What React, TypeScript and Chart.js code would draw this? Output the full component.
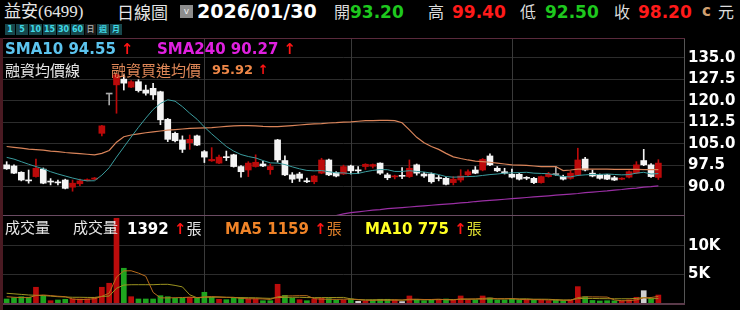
import React, { useEffect, useRef } from "react";
import { Chart, registerables } from "chart.js";
Chart.register(...registerables);

// ---- data ----
const opens = [97.6, 97.2, 95.0, 92.1, 93.5, 96.1, 91.8, 91.4, 92.3, 89.8,
  91.0, 92.1, 92.6, 108.6, 122.3, 125.5, 127.5, 124.7, 126.6, 123.7,
  124.3, 123.1, 113.5, 108.6, 106.3, 105.3, 107.7, 102.2, 99.0, 98.2,
  100.4, 101.1, 97.0, 95.8, 97.0, 97.9, 95.9, 106.3, 99.1, 94.1,
  94.4, 91.9, 91.7, 94.7, 99.3, 94.9, 94.4, 97.2, 95.6, 97.0,
  97.1, 98.2, 94.1, 93.4, 93.7, 93.5, 97.6, 94.4, 94.4, 93.0,
  92.9, 91.4, 92.3, 94.1, 95.8, 95.8, 100.7, 96.4, 95.2, 94.3,
  94.3, 93.0, 92.9, 91.4, 93.5, 94.2, 93.5, 92.9, 94.1, 99.6,
  94.7, 94.1, 94.1, 93.1, 92.6, 93.3, 94.7, 99.1, 97.6, 93.2];
const highs = [98.7, 97.6, 95.2, 95.8, 99.6, 96.5, 92.8, 92.3, 92.6, 92.3,
  92.6, 92.7, 93.2, 111.4, 122.3, 129.4, 129.0, 127.0, 127.3, 125.4,
  126.0, 123.3, 113.8, 109.0, 107.7, 108.0, 108.0, 102.6, 103.6, 101.0,
  102.4, 101.3, 97.3, 98.7, 101.1, 98.8, 97.9, 106.5, 100.7, 94.9,
  95.0, 93.0, 93.9, 99.9, 99.6, 95.2, 97.5, 97.5, 97.0, 98.0,
  97.9, 98.3, 94.7, 94.0, 96.6, 99.3, 97.9, 95.0, 94.8, 93.9,
  93.2, 93.5, 95.9, 95.9, 97.0, 99.8, 101.4, 97.0, 96.4, 96.1,
  94.6, 93.5, 93.2, 93.7, 95.0, 97.0, 94.0, 95.5, 103.4, 100.2,
  95.8, 94.4, 94.3, 93.6, 93.1, 95.5, 98.7, 103.0, 98.0, 99.4];
const lows = [96.0, 94.5, 92.0, 91.2, 93.3, 91.0, 90.6, 90.6, 89.2, 88.4,
  90.3, 92.0, 92.4, 107.7, 118.5, 115.6, 123.7, 124.5, 123.0, 121.9,
  120.4, 111.6, 105.7, 105.6, 101.9, 103.0, 104.3, 98.4, 98.8, 98.0,
  99.1, 96.8, 93.3, 93.5, 96.8, 97.0, 94.3, 98.5, 93.8, 91.4,
  91.8, 91.4, 91.0, 94.5, 93.8, 93.4, 94.2, 94.4, 94.5, 96.0,
  96.5, 94.3, 92.4, 92.7, 92.8, 93.2, 94.0, 93.2, 91.2, 92.0,
  90.6, 90.6, 91.6, 93.6, 94.5, 95.5, 97.3, 95.2, 94.4, 93.0,
  92.3, 92.4, 91.0, 91.2, 93.3, 93.8, 92.3, 92.6, 93.8, 95.5,
  93.4, 92.6, 92.4, 92.1, 92.4, 93.0, 94.5, 97.3, 93.2, 92.5];
const closes = [96.2, 94.7, 92.3, 92.0, 96.4, 91.2, 91.6, 91.3, 89.4, 91.2,
  92.0, 92.4, 93.0, 111.2, 122.3, 129.0, 126.1, 126.6, 123.5, 122.6,
  122.0, 113.3, 106.5, 106.0, 103.0, 106.5, 104.5, 100.3, 99.5, 100.3,
  100.1, 97.0, 95.2, 98.2, 98.5, 97.2, 97.0, 99.3, 94.1, 92.6,
  92.9, 91.7, 93.7, 99.3, 94.1, 93.7, 97.0, 95.5, 95.5, 97.8,
  97.7, 94.7, 93.1, 93.6, 93.6, 96.4, 94.7, 93.7, 91.7, 92.8,
  90.8, 92.6, 93.7, 95.2, 94.7, 99.5, 97.6, 95.5, 94.7, 93.3,
  92.6, 92.9, 91.4, 93.5, 94.4, 94.2, 92.6, 94.7, 99.3, 95.8,
  93.7, 92.9, 92.6, 92.3, 92.9, 95.2, 97.6, 97.6, 93.5, 98.2];
const sma10 = [100.2, 99.6, 98.7, 97.8, 97.0, 96.2, 95.2, 94.4, 93.7, 93.0,
  92.4, 92.0, 92.05, 94.0, 96.6, 100.3, 103.8, 107.3, 110.7, 113.9,
  116.9, 119.0, 120.3, 119.8, 117.9, 115.6, 113.5, 110.8, 108.4, 106.2,
  104.0, 102.4, 101.2, 100.5, 100.0, 99.1, 98.3, 98.2, 97.7, 96.9,
  96.2, 95.65, 95.5, 95.6, 95.2, 94.8, 94.8, 94.5, 94.6, 95.2,
  95.65, 95.95, 95.9, 95.3, 95.3, 95.55, 95.3, 95.1, 94.7, 94.2,
  93.5, 93.3, 93.4, 93.5, 93.6, 93.9, 94.2, 94.4, 94.7, 94.8,
  94.9, 95.0, 94.7, 94.6, 94.5, 94.0, 93.5, 93.4, 93.9, 94.1,
  94.25, 94.25, 94.4, 94.25, 94.1, 94.2, 94.7, 95.0, 94.4, 94.55];
const marginAvg = [104.0, 103.7, 103.4, 103.1, 102.9, 102.7, 102.4, 102.2, 101.9, 101.7,
  101.5, 101.3, 101.1, 101.6, 102.6, 105.5, 107.4, 108.0, 108.4, 108.8,
  109.1, 109.4, 109.7, 109.9, 110.1, 110.3, 110.4, 110.5, 110.6, 110.8,
  111.0, 111.2, 111.3, 111.3, 111.2, 111.0, 110.9, 110.9, 111.1, 111.3,
  111.5, 111.7, 111.9, 112.0, 112.2, 112.3, 112.5, 112.6, 112.8, 113.0,
  113.0, 113.1, 113.1, 113.0, 112.3, 109.8, 107.2, 105.3, 104.0, 103.0,
  101.6, 100.4, 99.8, 99.3, 98.9, 98.7, 98.5, 98.2, 97.9, 97.6,
  97.5, 97.4, 97.2, 97.0, 97.0, 97.0, 95.6, 95.8, 96.1, 96.1,
  96.1, 96.1, 96.1, 96.0, 96.0, 96.0, 96.0, 95.9, 95.9, 95.92];
const sma240 = [null, null, null, null, null, null, null, null, null, null,
  null, null, null, null, null, null, null, null, null, null,
  null, null, null, null, null, null, null, null, null, null,
  null, null, null, null, null, null, null, null, null, null,
  null, null, null, null, 79.6, 79.9, 80.5, 80.9, 81.2, 81.5,
  81.8, 82.0, 82.3, 82.5, 82.7, 82.9, 83.1, 83.3, 83.5, 83.7,
  83.9, 84.1, 84.3, 84.5, 84.8, 85.0, 85.2, 85.4, 85.6, 85.8,
  86.0, 86.2, 86.4, 86.6, 86.8, 87.0, 87.2, 87.4, 87.6, 87.9,
  88.1, 88.3, 88.5, 88.8, 89.0, 89.3, 89.5, 89.8, 90.0, 90.27];
const volumes = [700, 930, 1100, 1000, 2750, 1225, 400, 525, 650, 700,
  700, 700, 1000, 2750, 3450, 14800, 6070, 1100, 700, 700,
  700, 1280, 1100, 820, 875, 1000, 820, 1870, 1000, 650,
  580, 875, 875, 700, 700, 400, 400, 3270, 1340, 820,
  580, 400, 700, 820, 760, 525, 525, 700, 290, 290,
  525, 650, 650, 525, 250, 1225, 650, 400, 525, 525,
  700, 525, 1225, 525, 525, 1225, 875, 525, 525, 700,
  525, 650, 525, 525, 400, 525, 400, 525, 2860, 1100,
  450, 350, 400, 380, 380, 550, 1000, 2150, 700, 1392];
const volMa5 = [1100, 1000, 950, 950, 1296, 1401, 1295, 1180, 1110, 700,
  595, 655, 750, 1170, 1720, 4540, 5614, 5634, 5224, 4674,
  1854, 896, 896, 920, 955, 1015, 923, 1077, 1113, 1068,
  984, 995, 796, 736, 746, 710, 615, 1094, 1222, 1246,
  1282, 1282, 768, 664, 652, 641, 666, 666, 560, 466,
  466, 491, 481, 528, 520, 660, 660, 610, 610, 665,
  560, 535, 700, 700, 700, 805, 875, 735, 735, 770,
  630, 585, 585, 585, 525, 525, 475, 475, 942, 1082,
  1067, 1057, 1032, 536, 392, 412, 542, 892, 956, 1159];
const volMa10 = [1700, 1600, 1500, 1400, 1350, 1300, 1200, 1100, 1050, 1000,
  998, 975, 965, 1140, 1210, 2568, 3135, 3192, 3197, 3197,
  3197, 3255, 3265, 3072, 2815, 1435, 910, 987, 1017, 1012,
  1000, 960, 937, 925, 908, 848, 806, 946, 980, 997,
  997, 950, 932, 944, 950, 962, 975, 718, 613, 560,
  554, 579, 574, 545, 494, 564, 576, 546, 570, 593,
  611, 598, 656, 656, 683, 683, 706, 718, 718, 736,
  718, 731, 661, 661, 648, 578, 531, 531, 764, 804,
  797, 767, 754, 740, 738, 740, 800, 963, 747, 775];
const priceTicks = [90, 97.5, 105, 112.5, 120, 127.5, 135];
const volTicks = [5000, 10000];
const volTickLabels = ["5K", "10K"];
const monthStarts = [27, 47, 69];
const SLOTS = 93;

const RED = "#bc0a0a";
const WHITE = "#f4f4f4";
const GRAY = "#a8a8a8";
const VRED = "#bb0c0c";
const VGREEN = "#1fa51f";

const AXIS_FONT = { family: "DejaVu Sans", size: 15, weight: "bold" as const };

const monthLines = {
  id: "monthLines",
  beforeDatasetsDraw(chart: any) {
    const { ctx, chartArea, scales } = chart;
    const x = scales.x;
    ctx.save();
    ctx.strokeStyle = "#3a3a3a";
    ctx.lineWidth = 1;
    monthStarts.forEach((i) => {
      const px = Math.round(x.getPixelForValue(i)) + 0.5;
      ctx.beginPath();
      ctx.moveTo(px, chartArea.top);
      ctx.lineTo(px, chartArea.bottom);
      ctx.stroke();
    });
    ctx.restore();
  },
};

const fitAxis = (s: any) => {
  s.width = 56;
  s.paddingTop = 0;
  s.paddingBottom = 0;
};

function PriceChart() {
  const ref = useRef<HTMLCanvasElement>(null);
  useEffect(() => {
    const labels = Array.from({ length: SLOTS }, (_, i) => String(i));
    const candleColor = closes.map((c, i) => (c > opens[i] ? RED : c < opens[i] ? WHITE : GRAY));
    const chart = new Chart(ref.current!, {
      type: "bar",
      data: {
        labels,
        datasets: [
          { type: "line", data: sma10, borderColor: "#3a9c9e", borderWidth: 1, pointRadius: 0, order: 0 } as any,
          { type: "line", data: marginAvg, borderColor: "#d9845a", borderWidth: 1.2, pointRadius: 0, order: 0 } as any,
          { type: "line", data: sma240, borderColor: "#9a2fa4", borderWidth: 1.2, pointRadius: 0, order: 0 } as any,
          { type: "bar", data: lows.map((l, i) => [l, highs[i]]), backgroundColor: candleColor, barThickness: 1, grouped: false, order: 2 } as any,
          { type: "bar", data: opens.map((o, i) => [o, closes[i]]), backgroundColor: candleColor, barThickness: 6, minBarLength: 1, grouped: false, order: 1 } as any,
        ],
      },
      options: {
        animation: false,
        responsive: false,
        maintainAspectRatio: false,
        layout: { padding: { left: 3, top: 0, right: 0, bottom: 0 } },
        plugins: { legend: { display: false }, tooltip: { enabled: false } },
        scales: {
          x: { display: false },
          y: {
            position: "right",
            min: 80.1,
            max: 141.5,
            afterBuildTicks: (s: any) => { s.ticks = priceTicks.map((v) => ({ value: v })); },
            afterFit: fitAxis,
            ticks: { color: "#ffffff", font: AXIS_FONT, padding: 4, callback: (v: any) => Number(v).toFixed(1) },
            grid: { color: "#2c2c2c", drawTicks: false },
            border: { display: true, color: "#555555" },
          },
        },
      },
      plugins: [monthLines],
    });
    return () => chart.destroy();
  }, []);
  return <canvas ref={ref} width={740} height={176} style={{ position: "absolute", left: 0, top: 39, width: 740, height: 176 }} />;
}

function VolumeChart() {
  const ref = useRef<HTMLCanvasElement>(null);
  useEffect(() => {
    const labels = Array.from({ length: SLOTS }, (_, i) => String(i));
    const volColor = closes.map((c, i) => {
      const prev = i === 0 ? 97.0 : closes[i - 1];
      return c > prev ? VRED : c < prev ? VGREEN : "#cfcfcf";
    });
    const chart = new Chart(ref.current!, {
      type: "bar",
      data: {
        labels,
        datasets: [
          { type: "line", data: volMa5, borderColor: "#b86c1c", borderWidth: 1, pointRadius: 0, order: 0 } as any,
          { type: "line", data: volMa10, borderColor: "#9c9420", borderWidth: 1, pointRadius: 0, order: 0 } as any,
          { type: "bar", data: volumes, backgroundColor: volColor, barThickness: 5, order: 1 } as any,
        ],
      },
      options: {
        animation: false,
        responsive: false,
        maintainAspectRatio: false,
        layout: { padding: { left: 3, top: 0, right: 0, bottom: 0 } },
        plugins: { legend: { display: false }, tooltip: { enabled: false } },
        scales: {
          x: { display: false },
          y: {
            position: "right",
            min: 0,
            max: 15200,
            afterBuildTicks: (s: any) => { s.ticks = volTicks.map((v) => ({ value: v })); },
            afterFit: fitAxis,
            ticks: {
              color: "#ffffff", font: AXIS_FONT, padding: 4,
              callback: (v: any) => volTickLabels[volTicks.indexOf(Number(v))],
            },
            grid: { color: "#2c2c2c", drawTicks: false },
            border: { display: true, color: "#555555" },
          },
        },
      },
      plugins: [monthLines],
    });
    return () => chart.destroy();
  }, []);
  return <canvas ref={ref} width={740} height={87} style={{ position: "absolute", left: 0, top: 216, width: 740, height: 87 }} />;
}

const CJK = '"Noto Sans CJK TC", "Noto Sans CJK SC", sans-serif';
const SERIF = '"Liberation Serif", "Noto Sans CJK TC", serif';
const DV = '"DejaVu Sans", "Noto Sans CJK TC", sans-serif';

function T(props: { x: number; y: number; size: number; color: string; bold?: boolean; font?: string; children: React.ReactNode }) {
  return (
    <div style={{
      position: "absolute", left: props.x, top: props.y, fontSize: props.size, lineHeight: 1,
      color: props.color, fontWeight: props.bold ? "bold" : "normal", fontFamily: props.font || DV, whiteSpace: "nowrap",
    }}>{props.children}</div>
  );
}

const buttons = [
  { t: "1", x: 5, w: 10 }, { t: "5", x: 16, w: 12 }, { t: "10", x: 29, w: 13 }, { t: "15", x: 43, w: 13 },
  { t: "30", x: 57, w: 13 }, { t: "60", x: 71, w: 13 }, { t: "日", x: 85, w: 11 }, { t: "週", x: 97, w: 12 }, { t: "月", x: 110, w: 12 },
];

export default function App() {
  const arrow = <span style={{ color: "#ff1414", fontWeight: "bold" }}>↑</span>;
  return (
    <div style={{ position: "absolute", left: 0, top: 0, width: 740, height: 310, background: "#000", overflow: "hidden" }}>
      {/* header */}
      <T x={4} y={3} size={17} color="#e6e6e6" font={SERIF}>益安(6499)</T>
      <T x={117} y={3} size={17} color="#e6e6e6" font={CJK}>日線圖</T>
      <div style={{ position: "absolute", left: 180, top: 5, width: 13, height: 13, background: "#8c8c8c", color: "#eee", fontSize: 9, lineHeight: "13px", textAlign: "center", fontFamily: DV }}>v</div>
      <T x={197} y={2} size={19} color="#ffffff" bold>2026/01/30</T>
      <T x={334} y={3} size={16} color="#dddddd" font={CJK}>開</T>
      <T x={350} y={4} size={17} color="#1ec81e" bold>93.20</T>
      <T x={428} y={3} size={16} color="#dddddd" font={CJK}>高</T>
      <T x={452} y={4} size={17} color="#ff1a1a" bold>99.40</T>
      <T x={520} y={3} size={16} color="#dddddd" font={CJK}>低</T>
      <T x={545} y={4} size={17} color="#1ec81e" bold>92.50</T>
      <T x={614} y={3} size={16} color="#dddddd" font={CJK}>收</T>
      <T x={638} y={4} size={17} color="#ff1a1a" bold>98.20</T>
      <T x={702} y={4} size={15} color="#d0a070" bold>c</T>
      <T x={718} y={3} size={16} color="#dddddd" font={CJK}>元</T>
      {buttons.map((b) => (
        <div key={b.t} style={{
          position: "absolute", left: b.x, top: 24, width: b.w, height: 11, background: b.t === "日" ? "#1a1a1a" : "#17474c",
          color: b.t === "日" ? "#9a9a9a" : "#3fd8e6", fontSize: 8, lineHeight: "11px", textAlign: "center", fontWeight: "bold", fontFamily: DV,
        }}>{b.t}</div>
      ))}

      <PriceChart />
      <VolumeChart />

      {/* frame */}
      <div style={{ position: "absolute", left: 3, top: 38, width: 682, height: 1, background: "#5a2a3c" }} />
      <div style={{ position: "absolute", left: 0, top: 38, width: 3, height: 272, background: "#4a1a22" }} />
      <div style={{ position: "absolute", left: 3, top: 215, width: 682, height: 1, background: "#6a4a62" }} />
      <div style={{ position: "absolute", left: 3, top: 303, width: 682, height: 2, background: "#5a3a4a" }} />

      {/* price legends */}
      <T x={5} y={42} size={15} color="#5cc4ee" bold>SMA10 94.55 {arrow}</T>
      <T x={157} y={42} size={15} color="#e020e0" bold>SMA240 90.27 {arrow}</T>
      <T x={5} y={62} size={15} color="#e8e8e8" font={CJK}>融資均價線</T>
      <T x={111} y={62} size={15} color="#e08858" font={CJK}>融資買進均價</T>
      <T x={212} y={63} size={13} color="#f08848" bold>95.92 {arrow}</T>

      {/* volume legends */}
      <T x={5} y={219} size={15} color="#e8e8e8" font={CJK}>成交量</T>
      <T x={73} y={219} size={15} color="#e8e8e8" font={CJK}>成交量</T>
      <T x={127} y={220} size={15} color="#ffffff" bold>1392 {arrow}<span style={{ fontFamily: CJK, fontWeight: "normal", color: "#e8e8e8" }}>張</span></T>
      <T x={225} y={220} size={15} color="#f08428" bold>MA5 1159 {arrow}<span style={{ fontFamily: CJK, fontWeight: "normal", color: "#e0802a" }}>張</span></T>
      <T x={365} y={220} size={15} color="#ffff22" bold>MA10 775 {arrow}<span style={{ fontFamily: CJK, fontWeight: "normal", color: "#e0e030" }}>張</span></T>
    </div>
  );
}
